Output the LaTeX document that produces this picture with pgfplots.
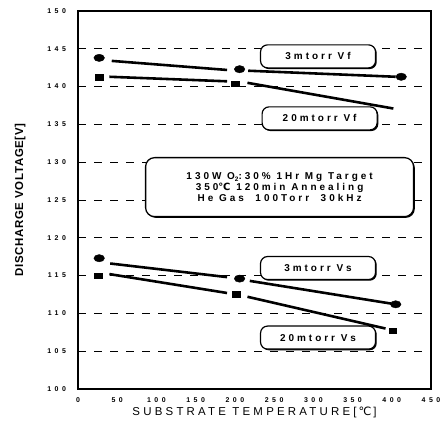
\documentclass[border=0pt]{standalone}
\usepackage{fontspec}
\setmainfont{Liberation Sans}
\newfontfamily\spc{Liberation Sans}[LetterSpace=50]
\newfontfamily\spb{Liberation Sans}[LetterSpace=30]
\newfontfamily\spx{Liberation Sans}[LetterSpace=28]
\newfontfamily\spy{Liberation Sans}[LetterSpace=6]
\newfontfamily\dejavu{DejaVu Sans}
\usepackage{pgfplots}
\pgfplotsset{compat=1.18}
\usetikzlibrary{shadows}
\tikzset{lbox/.style={draw, fill=white, rounded corners=7bp, line width=1.2pt,
    minimum width=115bp, minimum height=23bp,
    drop shadow={shadow xshift=1.2bp, shadow yshift=-1.2bp, fill=black, opacity=1},
    font=\spb\bfseries\fontsize{10}{11}\selectfont, inner sep=2pt}}
\pgfplotstableread{
x y
27 143.8
206 142.3
412 141.3
}\vfthreepts
\pgfplotstableread{
x y
27 141.2
200 140.4
}\vftwentypts
\pgfplotstableread{
x y
27 117.3
206 114.6
405 111.2
}\vsthreepts
\pgfplotstableread{
x y
26 115.0
202 112.5
401 107.7
}\vstwentypts
\begin{document}
\begin{tikzpicture}
\begin{axis}[
  scale only axis, width=353bp, height=378bp,
  xmin=0, xmax=450, ymin=100, ymax=150,
  xtick={0,50,...,450}, ytick={100,105,...,150},
  /pgf/number format/assume math mode=true,
  tick label style={font=\spc\bfseries\fontsize{7}{8}\selectfont},
  yticklabel style={xshift=-8.5bp},
  xticklabel style={yshift=-5bp},
  major tick length=0pt,
  ymajorgrids,
  grid style={black, line width=0.7pt, dash pattern=on 8bp off 8bp},
  axis line style={line width=1.1pt},
  xlabel={\spx\fontsize{11.5}{13}\selectfont SUBSTRATE TEMPERATURE[\,{\dejavu ℃}\,]},
  ylabel={\spy\bfseries\fontsize{11.5}{13}\selectfont DISCHARGE VOLTAGE[V]},
  xlabel style={at={(axis description cs:0.5,-0.061)}, anchor=center},
  ylabel style={at={(axis description cs:-0.164,0.5)}, anchor=center},
  clip=false,
]
% 3 mtorr Vf
\addplot[black, line width=2.6pt] coordinates {(43,143.4) (190,142.2)};
\addplot[black, line width=2.6pt] coordinates {(217,142.1) (405,141.3)};
\addplot[only marks, mark=*, mark size=3.9pt, mark options={xscale=1.37, yscale=0.94, fill=black}] table {\vfthreepts};
% 20 mtorr Vf
\addplot[black, line width=2.6pt] coordinates {(40,141.3) (190,140.7)};
\addplot[black, line width=2.6pt] coordinates {(216,140.5) (402,137.1)};
\addplot[only marks, mark=square*, mark size=2.9pt, mark options={xscale=1.33, yscale=0.98, fill=black}] table {\vftwentypts};
% 3 mtorr Vs
\addplot[black, line width=2.6pt] coordinates {(41,116.6) (190,114.8)};
\addplot[black, line width=2.6pt] coordinates {(219,114.3) (399,111.3)};
\addplot[only marks, mark=*, mark size=3.9pt, mark options={xscale=1.37, yscale=0.94, fill=black}] table {\vsthreepts};
% 20 mtorr Vs
\addplot[black, line width=2.6pt] coordinates {(40,115.2) (190,112.7)};
\addplot[black, line width=2.6pt] coordinates {(216,112.2) (392,108.0)};
\addplot[only marks, mark=square*, mark size=2.9pt, mark options={xscale=1.33, yscale=0.98, fill=black}] table {\vstwentypts};

\node[lbox] at (axis cs:306,144.0) {3mtorr Vf};
\node[lbox] at (axis cs:308,135.8) {20mtorr Vf};
\node[lbox] at (axis cs:306,116.0) {3mtorr Vs};
\node[lbox] at (axis cs:306,106.8) {20mtorr Vs};
\node[lbox, rounded corners=9bp, line width=1.3pt,
  minimum width=268bp, minimum height=59bp, align=center,
  font=\spb\bfseries\fontsize{10}{11}\selectfont]
  at (axis cs:257,126.7)
  {130W O\raisebox{-0.35ex}{\fontsize{6.5}{7}\selectfont 2}:30\% 1Hr Mg Target\\
   350{\dejavu ℃} 120min Annealing\\
   He Gas \ 100Torr \ 30kHz};
\end{axis}
\path (current axis.south west) ++(-78bp,-37bp) coordinate (bbl);
\path (current axis.north east) ++(9bp,11bp) coordinate (btr);
\pgfresetboundingbox
\path (bbl) rectangle (btr);
\end{tikzpicture}
\end{document}
